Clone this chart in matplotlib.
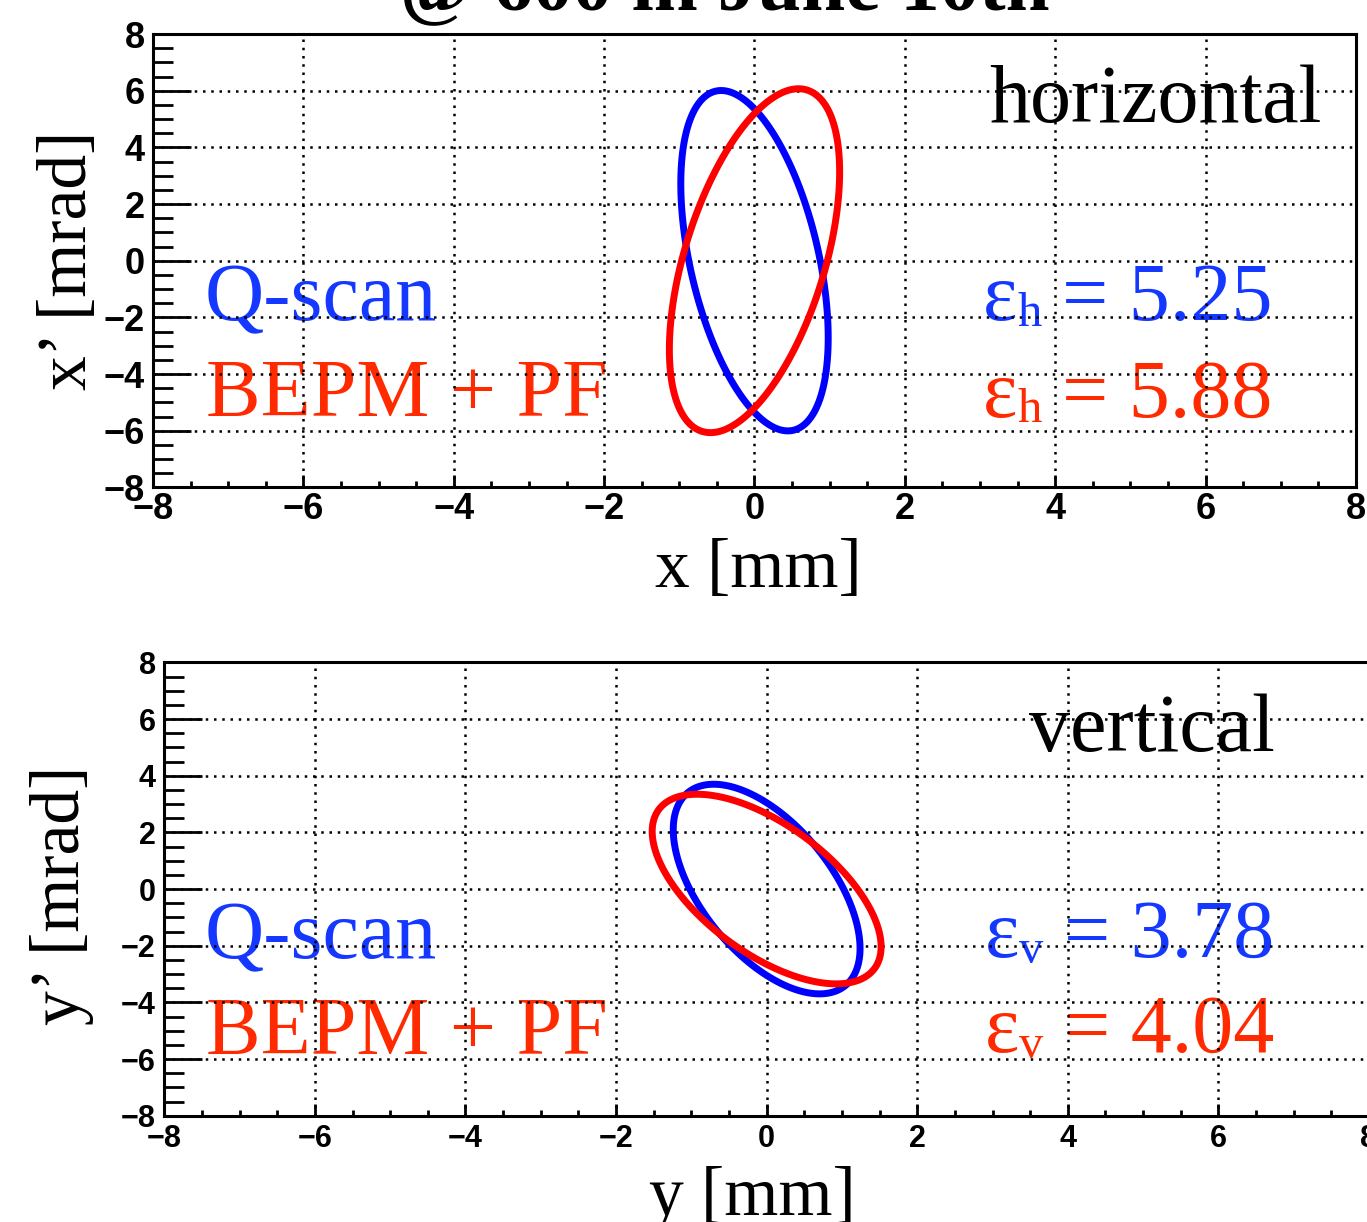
import numpy as np
import matplotlib
matplotlib.use('Agg')
import matplotlib.pyplot as plt

W, H = 1367, 1222

# ---- data (Twiss parameters) ----
methods = ['Q-scan', 'BEPM + PF']
emit_h = [5.25, 5.88]
beta_h = [0.183, 0.218]
alpha_h = [0.507, -0.604]
emit_v = [3.78, 4.04]
beta_v = [0.407, 0.572]
alpha_v = [0.688, 0.765]
major_ticks = [-8, -6, -4, -2, 0, 2, 4, 6, 8]
tick_labels = ['−8', '−6', '−4', '−2', '0', '2', '4', '6', '8']
title = '@ 600 in June 10th'

line_colors = ['#0000ff', '#ff0000']
text_colors = ['#1438ff', '#ff2a00']

plt.rcParams['font.family'] = ['Liberation Sans']

fig = plt.figure(figsize=(W / 100, H / 100), dpi=100)
fig.patch.set_facecolor('white')


def fx(px):
    return px / W


def fy(py):
    return 1 - py / H


def make_axes(l, r, t, b, tick_fs, xpad):
    ax = fig.add_axes([fx(l), fy(b), fx(r) - fx(l), fy(t) - fy(b)])
    ax.set_xlim(-8, 8)
    ax.set_ylim(-8, 8)
    ax.set_xticks(major_ticks)
    ax.set_yticks(major_ticks)
    ax.set_xticks(np.arange(-8, 8.01, 0.5), minor=True)
    ax.set_yticks(np.arange(-8, 8.01, 0.5), minor=True)
    for s in ax.spines.values():
        s.set_linewidth(2.2)
    ax.tick_params(axis='both', which='both', direction='in', width=2.0,
                   top=False, right=False)
    ax.tick_params(axis='y', which='major', length=27, pad=6)
    ax.tick_params(axis='y', which='minor', length=14.5)
    ax.tick_params(axis='x', which='major', length=8.6, pad=xpad)
    ax.tick_params(axis='x', which='minor', length=4.3)
    ax.set_xticklabels(tick_labels, fontsize=tick_fs, fontweight='bold',
                       family='Liberation Sans')
    ax.set_yticklabels(tick_labels, fontsize=tick_fs, fontweight='bold',
                       family='Liberation Sans')
    ax.grid(True, which='major', color='black', linestyle=(0, (1, 2.3)),
            linewidth=1.8)
    ax.set_axisbelow(True)
    return ax


def ellipse(ax, eps, beta, alpha, color):
    t = np.linspace(0, 2 * np.pi, 720, endpoint=False)
    u = np.sqrt(eps * beta) * np.cos(t)
    up = -np.sqrt(eps / beta) * (alpha * np.cos(t) + np.sin(t))
    ax.fill(u, up, fill=False, edgecolor=color, lw=5.0, zorder=2,
            joinstyle='round')


def txt(ax, px, py, s, color='black', ha='left', fs=59):
    ax.text(fx(px), fy(py), s, transform=fig.transFigure, ha=ha, va='baseline',
            fontsize=fs, family='Liberation Serif', fontweight='normal',
            color=color, zorder=0.3)


def emit_txt(ax, px, py, sub, val, color):
    txt(ax, px, py, 'ε', color)
    txt(ax, px + 34, py + 6, sub, color, fs=35)
    txt(ax, px + 79, py, '= %.2f' % val, color)


# ---- top panel ----
ax1 = make_axes(153, 1356, 34, 487.4, 26, 3)
for i in range(2):
    ellipse(ax1, emit_h[i], beta_h[i], alpha_h[i], line_colors[i])
txt(ax1, 1322, 121.7, 'horizontal', ha='right')
txt(ax1, 205, 320, methods[0], text_colors[0])
txt(ax1, 206, 416, methods[1], text_colors[1])
emit_txt(ax1, 983, 320.5, 'h', emit_h[0], text_colors[0])
emit_txt(ax1, 983, 416.5, 'h', emit_h[1], text_colors[1])

# ---- bottom panel ----
ax2 = make_axes(164.3, 1369, 662.4, 1115.7, 22, 6)
for i in range(2):
    ellipse(ax2, emit_v[i], beta_v[i], alpha_v[i], line_colors[i])
txt(ax2, 1275, 750.7, 'vertical', ha='right')
txt(ax2, 205, 958, methods[0], text_colors[0])
txt(ax2, 206, 1054, methods[1], text_colors[1])
emit_txt(ax2, 985, 957, 'v', emit_v[0], text_colors[0])
emit_txt(ax2, 985, 1052, 'v', emit_v[1], text_colors[1])

# ---- axis labels ----
lab_kw = dict(fontsize=50, family='Liberation Serif', fontweight='normal',
              color='black')
fig.text(fx(758), fy(587), 'x [mm]', ha='center', va='baseline', **lab_kw)
fig.text(fx(752), fy(1215), 'y [mm]', ha='center', va='baseline', **lab_kw)
fig.text(fx(69), fy(260), 'x’ [mrad]', ha='center', va='center',
         rotation=90, **lab_kw)
fig.text(fx(62), fy(895), 'y’ [mrad]', ha='center', va='center',
         rotation=90, **lab_kw)

# ---- title (mostly above the visible area) ----
fig.text(fx(725), fy(9), title, ha='center', va='baseline', fontsize=57,
         fontweight='bold', family='Liberation Serif', color='black')

fig.savefig('out.png', dpi=100, facecolor='white')
